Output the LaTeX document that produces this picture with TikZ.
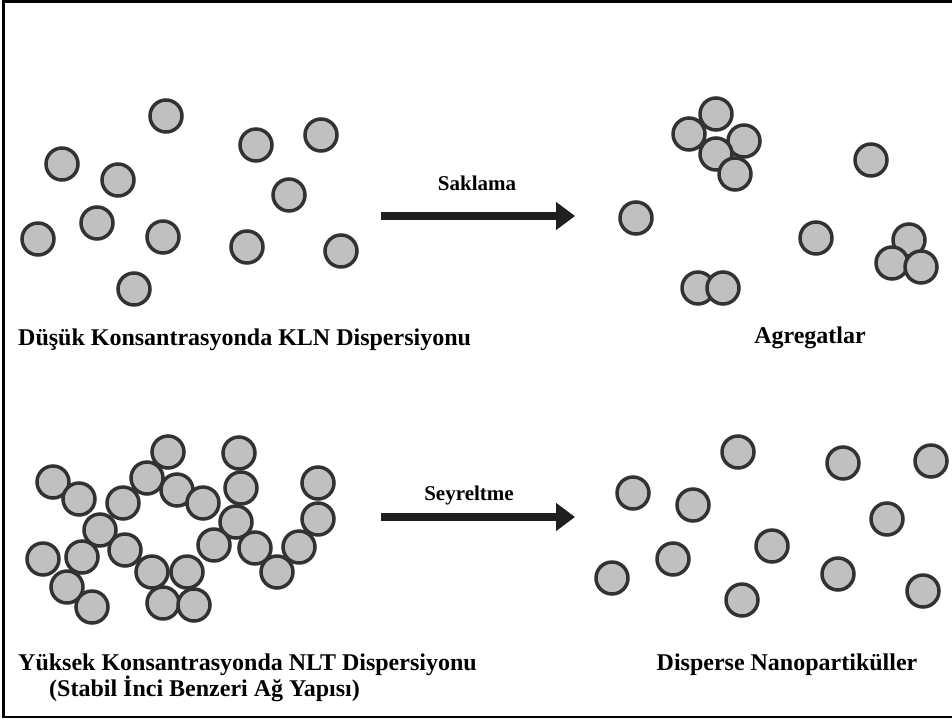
\documentclass[tikz,border=0pt]{standalone}
\usepackage{fontspec}
\setmainfont{Liberation Serif}
\usetikzlibrary{arrows.meta}

\definecolor{pfill}{RGB}{192,192,192}
\definecolor{pline}{RGB}{50,50,50}

\tikzset{
	particle/.style={fill=pfill, draw=pline, line width=3.5pt},
	label/.style={font=\fontsize{24}{26}\selectfont\bfseries, inner sep=0pt},
	steplabel/.style={font=\fontsize{21}{24}\selectfont\bfseries, inner sep=0pt},
	process/.style={draw=black!88, line width=7.5pt, -{Triangle[length=19pt,width=27pt]}}
}

\begin{document}
\begin{tikzpicture}[x=1pt,y=-1pt]
	\useasboundingbox (0,0) rectangle (952,720);
	%frame (open on the right)
	\draw[line width=2.5pt] (952,1.5) -- (3.5,1.5) -- (3.5,717) -- (952,717);
	\def\r{16pt};
	% low concentration
	\foreach \x/\y in {166/116,62/164,118/180,97/223,38/239,163/237,134/289,
		256/145,321/135,289/195,247/247,341/251}{
		\filldraw[particle] (\x,\y) circle (\r);
	}
	% aggregates
	\foreach \x/\y in {689/134,716/114,744/141,716/154,735/174,636/218,871/160,
		816/238,698/288,723/288,909/240,892/263,921/267}{
		\filldraw[particle] (\x,\y) circle (\r);
	}
	% pearl network
	\foreach \x/\y in {168/452,53/482,79/499,147/478,177/490,203/503,123/503,
		100/530,239/453,241/488,236/522,318/483,318/519,214/545,255/548,
		299/547,277/572,43/559,82/557,125/550,152/572,187/572,67/587,
		92/607,163/603,194/605}{
		\filldraw[particle] (\x,\y) circle (\r);
	}
	% dispersed
	\foreach \x/\y in {738/452,633/493,693/505,843/463,931/461,887/519,
		772/546,673/559,612/578,838/574,742/600,923/591}{
		\filldraw[particle] (\x,\y) circle (\r);
	}
	\coordinate (s1) at (381,216);
	\coordinate (e1) at (575,216);
	\coordinate (s2) at (381,517);
	\coordinate (e2) at (575,517);
	\draw[process] (s1) -- (e1);
	\draw[process] (s2) -- (e2);
	\node[steplabel] (store) at (477,183) {Saklama};
	\node[steplabel] (dilute) at (469,495) {Seyreltme};
	\node[label, anchor=west] (low) at (18,340) {Düşük Konsantrasyonda KLN Dispersiyonu};
	\node[label] (agg) at (810,338) {Agregatlar};
	\node[label, align=left, anchor=north west] (high) at (18,654)
		{Yüksek Konsantrasyonda NLT Dispersiyonu\\\hspace*{31pt}(Stabil İnci Benzeri Ağ Yapısı)};
	\node[label] (disp) at (787,665) {Disperse Nanopartiküller};
\end{tikzpicture}
\end{document}
